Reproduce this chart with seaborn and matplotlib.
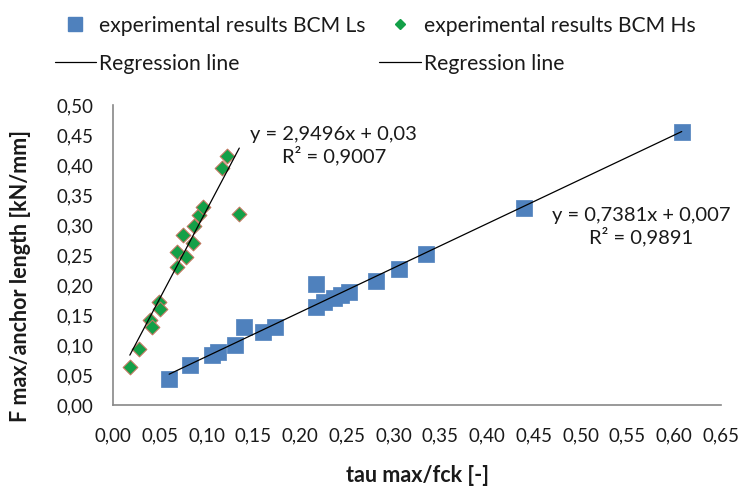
import numpy as np
import pandas as pd
import seaborn as sns
from matplotlib import pyplot as plt
from matplotlib.lines import Line2D

# BCM Ls series (blue squares)
ls_x = [0.060, 0.082, 0.106, 0.112, 0.130, 0.140, 0.160, 0.173, 0.217, 0.217,
        0.226, 0.236, 0.244, 0.252, 0.281, 0.306, 0.335, 0.439, 0.608]
ls_y = [0.043, 0.067, 0.083, 0.088, 0.100, 0.130, 0.122, 0.130, 0.202, 0.163,
        0.172, 0.178, 0.183, 0.188, 0.207, 0.227, 0.252, 0.328, 0.455]

# BCM Hs series (green diamonds)
hs_x = [0.018, 0.028, 0.040, 0.042, 0.049, 0.050, 0.068, 0.068, 0.078, 0.075,
        0.086, 0.087, 0.092, 0.096, 0.135, 0.116, 0.122]
hs_y = [0.063, 0.093, 0.142, 0.130, 0.172, 0.160, 0.230, 0.255, 0.247, 0.283,
        0.270, 0.298, 0.317, 0.330, 0.318, 0.395, 0.415]

# trendline coefficients as printed on the chart
ls_fit = (0.7381, 0.007, 0.9891)
hs_fit = (2.9496, 0.03, 0.9007)

x_ticks = np.arange(0, 0.651, 0.05)
y_ticks = np.arange(0, 0.501, 0.05)

sns.set_style("white")
plt.rcParams['font.family'] = ['Lato', 'DejaVu Sans']

blue = '#4F81BD'
green = '#13A048'
txt = '#1a1a1a'

fig = plt.figure(figsize=(7.42, 4.96), dpi=100)
ax = fig.add_axes([0.1523, 0.1835, 0.8194, 0.6048])

df_ls = pd.DataFrame({'x': ls_x, 'y': ls_y})
df_hs = pd.DataFrame({'x': hs_x, 'y': hs_y})

sns.scatterplot(data=df_ls, x='x', y='y', marker='s', s=128, color=blue,
                edgecolor=blue, linewidth=0.5, ax=ax, zorder=2, legend=False)
sns.scatterplot(data=df_hs, x='x', y='y', marker='D', s=56, color=green,
                edgecolor='#C07860', linewidth=0.8, ax=ax, zorder=2, legend=False)

# regression lines over the data range
for xs, (k, b, r2) in [(ls_x, ls_fit), (hs_x, hs_fit)]:
    xr = np.array([min(xs), max(xs)])
    sns.lineplot(x=xr, y=k * xr + b, color='black', linewidth=0.9, ax=ax, zorder=3)

ax.text(0.236, 0.432, "y = 2,9496x + 0,03\nR² = 0,9007", ha='center', va='center',
        multialignment='center', fontsize=14.5, color=txt, linespacing=1.15)
ax.text(0.565, 0.297, "y = 0,7381x + 0,007\nR² = 0,9891", ha='center', va='center',
        multialignment='center', fontsize=14.5, color=txt, linespacing=1.15)

ax.set_xlim(0, 0.65)
ax.set_ylim(0, 0.50)
ax.set_xticks(x_ticks)
ax.set_yticks(y_ticks)
ax.set_xticklabels([f"{v:.2f}".replace('.', ',') for v in x_ticks])
ax.set_yticklabels([f"{v:.2f}".replace('.', ',') for v in y_ticks])
ax.tick_params(axis='both', length=0, labelsize=13.5, colors=txt)
ax.tick_params(axis='y', pad=14)
ax.tick_params(axis='x', pad=16)

ax.set_xlabel("tau max/fck [-]", fontsize=15.5, fontweight='bold', color=txt)
ax.set_ylabel("F max/anchor length [kN/mm]", fontsize=15.5, fontweight='bold', color=txt)
ax.xaxis.set_label_coords(0.5, -0.2)
ax.yaxis.set_label_coords(-0.135, 0.43)

for side in ['top', 'right']:
    ax.spines[side].set_visible(False)
for side in ['left', 'bottom']:
    ax.spines[side].set_color('#888888')
    ax.spines[side].set_linewidth(1.2)

handles = [
    Line2D([], [], marker='s', color=blue, linestyle='none', markersize=10),
    Line2D([], [], color='black', linewidth=0.9),
    Line2D([], [], marker='D', color=green, linestyle='none', markersize=4.6),
    Line2D([], [], color='black', linewidth=0.9),
]
labels = ["experimental results BCM Ls", "Regression line",
          "experimental results BCM Hs", "Regression line"]
fig.legend(handles, labels, loc='upper left', bbox_to_anchor=(0.074, 0.968), ncol=2,
           frameon=False, fontsize=15.2, handlelength=1.95, handletextpad=0.15,
           labelspacing=0.85, columnspacing=0.65, borderpad=0, borderaxespad=0,
           labelcolor=txt)

plt.savefig("out.png", dpi=100)
plt.close()
